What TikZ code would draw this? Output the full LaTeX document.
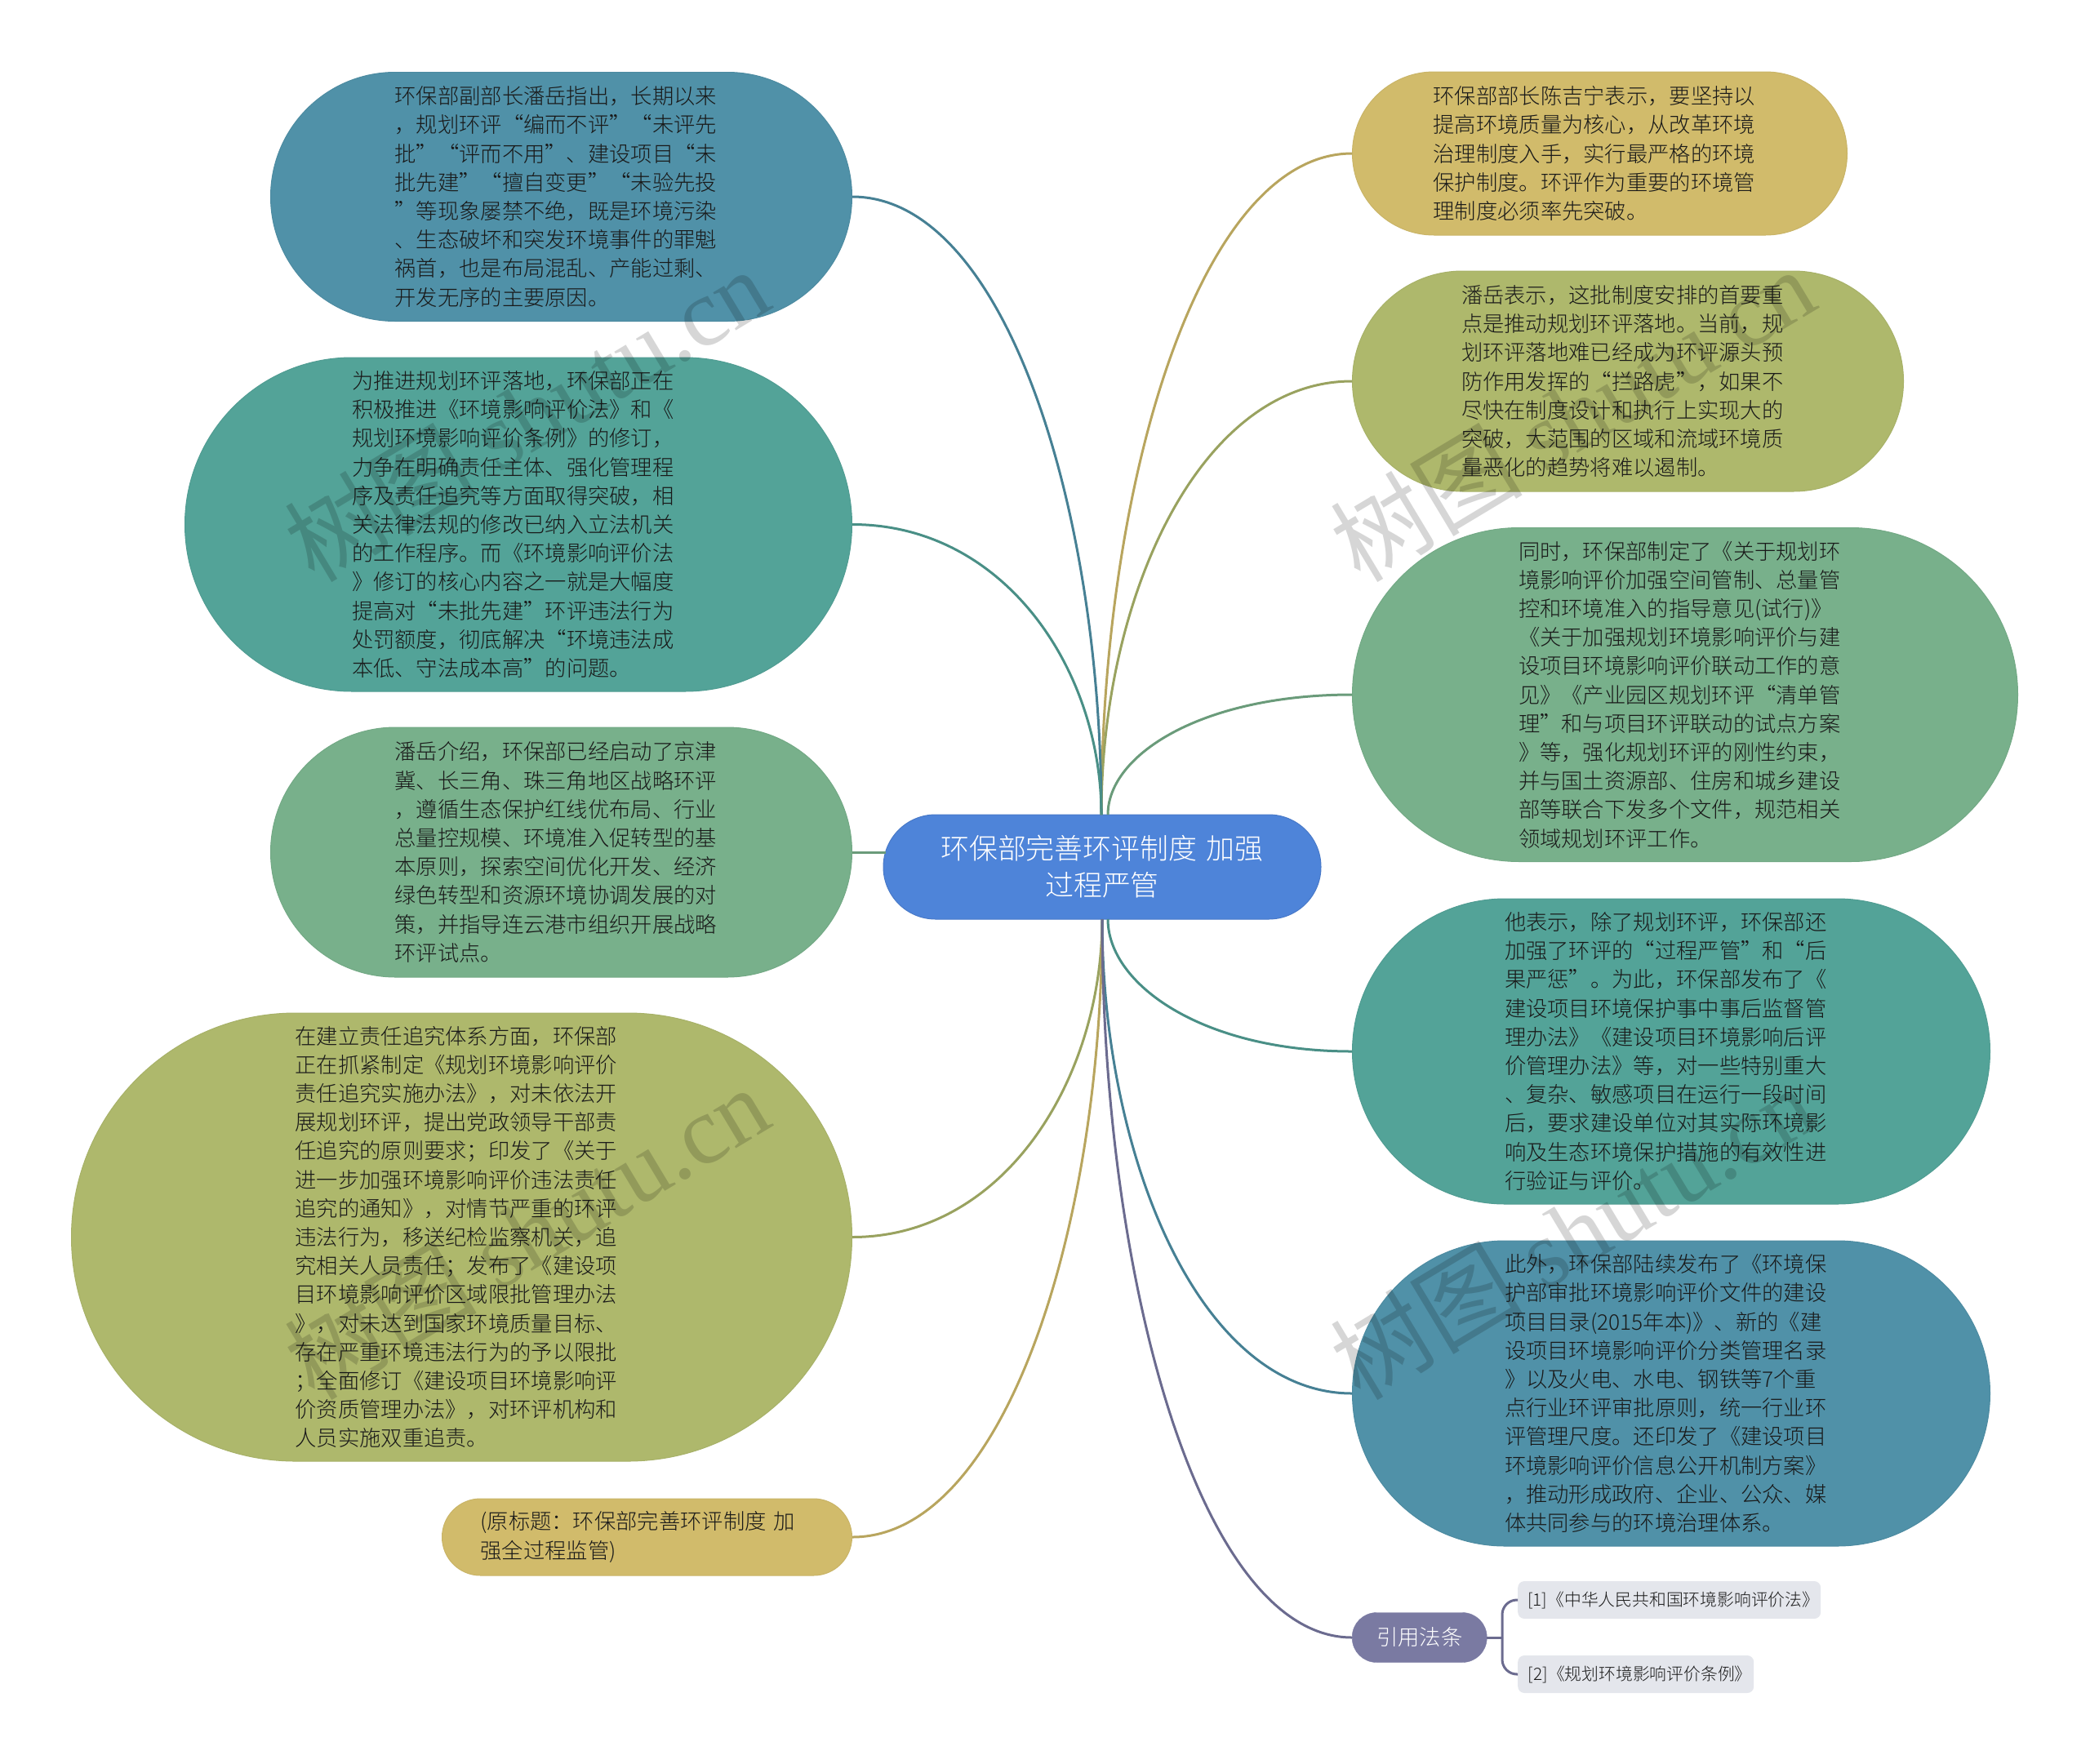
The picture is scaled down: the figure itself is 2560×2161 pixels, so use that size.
\documentclass[tikz,border=0pt]{standalone}
\usepackage{fontspec}
\setmainfont{Noto Sans CJK SC}[UprightFont=* Light]
\newfontfamily\stampfont{Liberation Serif}
\newfontfamily\stampcjk{Noto Sans CJK SC}
\usetikzlibrary{positioning}
\definecolor{seablue}{HTML}{5091A8}
\definecolor{seateal}{HTML}{53A398}
\definecolor{leafgreen}{HTML}{78B08B}
\definecolor{olive}{HTML}{AEB86C}
\definecolor{sand}{HTML}{D1BB6B}
\definecolor{dusk}{HTML}{7A7AA2}
\definecolor{rootblue}{HTML}{4E84D9}
\definecolor{citegray}{HTML}{E4E6EC}
\tikzset{bubble/.style n args={3}{rectangle,fill=#1,draw=#1!96!black,line width=1pt,inner sep=0pt,
             minimum width=#2pt,minimum height=#3pt,rounded corners=#3pt/2,
             text width=408pt,align=left,text=black!90,font=\fontsize{26.3}{35.2}\selectfont},
         main node/.style={rectangle,fill=rootblue,draw=rootblue!92!black,line width=1pt,inner sep=0pt,
             minimum width=536pt,minimum height=128pt,rounded corners=64pt,
             text width=408pt,align=center,text=white,font=\fontsize{34.9}{45}\selectfont},
         cite node/.style={rectangle,fill=dusk,draw=dusk,inner sep=0pt,minimum width=165pt,minimum height=61pt,
             rounded corners=30pt,text=white,font=\fontsize{26.3}{35.2}\selectfont},
         cite item/.style={rectangle,rounded corners=8pt,fill=citegray,inner sep=0pt,minimum height=46pt,
             anchor=west,align=left,text=black!90,font=\fontsize{20.8}{28}\selectfont},
         link/.style={draw=#1!88!black,line width=3pt},
         stamp/.style={text=black,opacity=0.16,rotate=31,inner sep=0pt,font=\fontsize{118}{118}\selectfont}
}
\begin{document}
\begin{tikzpicture}[x=1pt,y=-1pt]
\useasboundingbox (0,0) rectangle (2560,2161);
\node[main node] (main) at (1350,1062) {环保部完善环评制度 加强\\过程严管};
% left side
\node[bubble={seablue}{712}{305},anchor=east] (deputy) at (1044,241) {环保部副部长潘岳指出，长期以来\\
，规划环评“编而不评”“未评先\\
批”“评而不用”、建设项目“未\\
批先建”“擅自变更”“未验先投\\
”等现象屡禁不绝，既是环境污染\\
、生态破坏和突发环境事件的罪魁\\
祸首，也是布局混乱、产能过剩、\\
开发无序的主要原因。};
\node[bubble={seateal}{817}{409},anchor=east] (lawrev) at (1044,642.5) {为推进规划环评落地，环保部正在\\
积极推进《环境影响评价法》和《\\
规划环境影响评价条例》的修订，\\
力争在明确责任主体、强化管理程\\
序及责任追究等方面取得突破，相\\
关法律法规的修改已纳入立法机关\\
的工作程序。而《环境影响评价法\\
》修订的核心内容之一就是大幅度\\
提高对“未批先建”环评违法行为\\
处罚额度，彻底解决“环境违法成\\
本低、守法成本高”的问题。};
\node[bubble={leafgreen}{712}{306},anchor=east] (region) at (1044,1044) {潘岳介绍，环保部已经启动了京津\\
冀、长三角、珠三角地区战略环评\\
，遵循生态保护红线优布局、行业\\
总量控规模、环境准入促转型的基\\
本原则，探索空间优化开发、经济\\
绿色转型和资源环境协调发展的对\\
策，并指导连云港市组织开展战略\\
环评试点。};
\node[bubble={olive}{956}{549},anchor=east] (duty) at (1044,1515.5) {在建立责任追究体系方面，环保部\\
正在抓紧制定《规划环境影响评价\\
责任追究实施办法》，对未依法开\\
展规划环评，提出党政领导干部责\\
任追究的原则要求；印发了《关于\\
进一步加强环境影响评价违法责任\\
追究的通知》，对情节严重的环评\\
违法行为，移送纪检监察机关，追\\
究相关人员责任；发布了《建设项\\
目环境影响评价区域限批管理办法\\
》，对未达到国家环境质量目标、\\
存在严重环境违法行为的予以限批\\
；全面修订《建设项目环境影响评\\
价资质管理办法》，对环评机构和\\
人员实施双重追责。};
\node[bubble={sand}{502}{94},anchor=east] (origin) at (1044,1883) {(原标题：环保部完善环评制度 加\\
强全过程监管)};
% right side
\node[bubble={sand}{606}{200},anchor=west] (chen) at (1656,188) {环保部部长陈吉宁表示，要坚持以\\
提高环境质量为核心，从改革环境\\
治理制度入手，实行最严格的环境\\
保护制度。环评作为重要的环境管\\
理制度必须率先突破。};
\node[bubble={olive}{675}{270},anchor=west] (plan) at (1656,467) {潘岳表示，这批制度安排的首要重\\
点是推动规划环评落地。当前，规\\
划环评落地难已经成为环评源头预\\
防作用发挥的“拦路虎”，如果不\\
尽快在制度设计和执行上实现大的\\
突破，大范围的区域和流域环境质\\
量恶化的趋势将难以遏制。};
\node[bubble={leafgreen}{815}{409},anchor=west] (docs) at (1656,851) {同时，环保部制定了《关于规划环\\
境影响评价加强空间管制、总量管\\
控和环境准入的指导意见(试行)》\\
《关于加强规划环境影响评价与建\\
设项目环境影响评价联动工作的意\\
见》《产业园区规划环评“清单管\\
理”和与项目环评联动的试点方案\\
》等，强化规划环评的刚性约束，\\
并与国土资源部、住房和城乡建设\\
部等联合下发多个文件，规范相关\\
领域规划环评工作。};
\node[bubble={seateal}{781}{374},anchor=west] (process) at (1656,1288) {他表示，除了规划环评，环保部还\\
加强了环评的“过程严管”和“后\\
果严惩”。为此，环保部发布了《\\
建设项目环境保护事中事后监督管\\
理办法》《建设项目环境影响后评\\
价管理办法》等，对一些特别重大\\
、复杂、敏感项目在运行一段时间\\
后，要求建设单位对其实际环境影\\
响及生态环境保护措施的有效性进\\
行验证与评价。};
\node[bubble={seablue}{781}{374},anchor=west] (public) at (1656,1707) {此外，环保部陆续发布了《环境保\\
护部审批环境影响评价文件的建设\\
项目目录(2015年本)》、新的《建\\
设项目环境影响评价分类管理名录\\
》以及火电、水电、钢铁等7个重\\
点行业环评审批原则，统一行业环\\
评管理尺度。还印发了《建设项目\\
环境影响评价信息公开机制方案》\\
，推动形成政府、企业、公众、媒\\
体共同参与的环境治理体系。};
\node[cite node,anchor=west] (cite) at (1656,2006) {引用法条};
\node[cite item,minimum width=371pt] (law) at (1859,1960) {\hspace{10pt}[1]《中华人民共和国环境影响评价法》};
\node[cite item,minimum width=289pt] (rule) at (1859,2051) {\hspace{10pt}[2]《规划环境影响评价条例》};
% where the curves meet the main node
\coordinate (top in) at (1349,998);
\coordinate (top out) at (1357,998);
\coordinate (low in) at (1350,1126);
\coordinate (low out) at (1357,1126);
\coordinate (fork) at (1840,2006);
\draw[link=sand] (chen.west) .. controls +(-187,0) and +(0,-405) .. (top in);
\draw[link=olive] (plan.west) .. controls +(-187,0) and +(0,-266) .. (top in);
\draw[link=leafgreen] (docs.west) .. controls +(-183,0) and +(0,-74) .. (top out);
\draw[link=seablue] (deputy.east) .. controls +(186,0) and +(0,-378) .. (top in);
\draw[link=seateal] (lawrev.east) .. controls +(186,0) and +(0,-178) .. (top in);
\draw[link=leafgreen,shorten >=-3pt] (region.east) -- (region.east -| main.west);
\draw[link=seateal] (process.west) .. controls +(-183,0) and +(0,80) .. (low out);
\draw[link=olive] (duty.east) .. controls +(187,0) and +(0,195) .. (low in);
\draw[link=sand] (origin.east) .. controls +(186,0) and +(0,379) .. (low in);
\draw[link=seablue] (public.west) .. controls +(-187,0) and +(0,290) .. (low in);
\draw[link=dusk] (cite.west) .. controls +(-187,0) and +(0,440) .. (low in);
\draw[link=dusk] (cite.east) -- (fork);
\draw[link=dusk,rounded corners=18pt] (law.west) -| (fork);
\draw[link=dusk,rounded corners=18pt] (rule.west) -| (fork);
% watermarks
\node[stamp] (stamp a) at (645,507) {{\stampcjk 树图} {\stampfont shutu.cn}};
\node[stamp] (stamp b) at (645,1509) {{\stampcjk 树图} {\stampfont shutu.cn}};
\node[stamp] (stamp c) at (1926,507) {{\stampcjk 树图} {\stampfont shutu.cn}};
\node[stamp] (stamp d) at (1926,1509) {{\stampcjk 树图} {\stampfont shutu.cn}};
\end{tikzpicture}
\end{document}
